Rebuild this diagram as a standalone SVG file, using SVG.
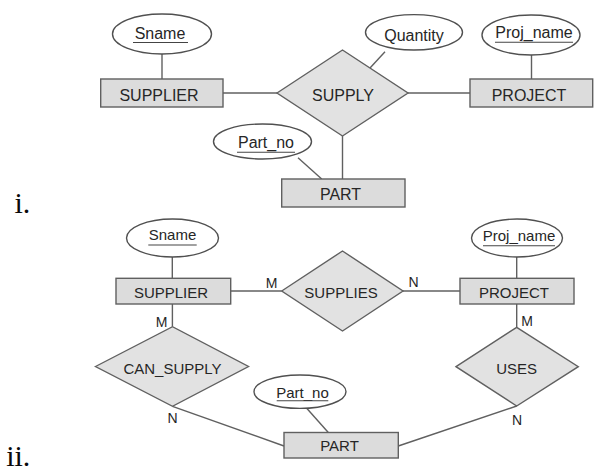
<svg xmlns="http://www.w3.org/2000/svg" width="603" height="475" viewBox="0 0 603 475">
<style>
.bg{fill:#ffffff}
.ent{fill:#dcdcdc;stroke:#606060;stroke-width:1.4}
.rel{fill:#e2e2e2;stroke:#606060;stroke-width:1.4}
.att{fill:#ffffff;stroke:#505050;stroke-width:1.4}
.ln{stroke:#606060;stroke-width:1.4;fill:none}
.ul{stroke:#444444;stroke-width:1.1}
text{font-family:"Liberation Sans",Arial,sans-serif;fill:#262626;text-anchor:middle}
.t16{font-size:16px}
.t15{font-size:15px}
.card{font-size:14px}
.num{font-family:"Liberation Serif","Times New Roman",serif;font-size:30px;fill:#0a0a0a;text-anchor:start}
</style>
<rect class="bg" x="0" y="0" width="603" height="475"/>

<g id="connectors">
  <line class="ln" x1="162" y1="54" x2="162" y2="79"/>
  <line class="ln" x1="223" y1="93" x2="277" y2="93"/>
  <line class="ln" x1="385" y1="51.7" x2="370" y2="68"/>
  <line class="ln" x1="408" y1="93" x2="470" y2="93"/>
  <line class="ln" x1="531.5" y1="55" x2="531.5" y2="79"/>
  <line class="ln" x1="298" y1="157.7" x2="321.7" y2="179"/>
  <line class="ln" x1="342.5" y1="136" x2="342.5" y2="179"/>
  <line class="ln" x1="172.3" y1="257" x2="172.3" y2="278.3"/>
  <line class="ln" x1="230.7" y1="291" x2="281.7" y2="291"/>
  <line class="ln" x1="403" y1="291" x2="460" y2="291"/>
  <line class="ln" x1="516.7" y1="257" x2="516.7" y2="278.3"/>
  <line class="ln" x1="172.4" y1="304" x2="172.4" y2="326.7"/>
  <line class="ln" x1="172.5" y1="406.3" x2="284" y2="446"/>
  <line class="ln" x1="516.7" y1="304" x2="516.7" y2="327.3"/>
  <line class="ln" x1="516.7" y1="406" x2="398.3" y2="446"/>
  <line class="ln" x1="306.7" y1="408.3" x2="328.3" y2="432.5"/>
</g>

<g id="i_sname">
  <ellipse class="att" cx="162" cy="34" rx="49.5" ry="20"/>
  <text class="t16" x="160" y="38.5">Sname</text>
  <line class="ul" x1="133" y1="42.5" x2="188" y2="42.5"/>
</g>
<g id="i_supplier">
  <rect class="ent" x="100.7" y="79" width="122.3" height="28"/>
  <text class="t16" x="159" y="100.5">SUPPLIER</text>
</g>
<g id="i_supply">
  <polygon class="rel" points="277,93 342.5,50 408,93 342.5,136"/>
  <text class="t16" x="343" y="100.5">SUPPLY</text>
</g>
<g id="i_quantity">
  <ellipse class="att" cx="414" cy="32.3" rx="48.5" ry="17.7"/>
  <text class="t16" x="414" y="40.5">Quantity</text>
</g>
<g id="i_project">
  <rect class="ent" x="470" y="79" width="122.7" height="28"/>
  <text class="t16" x="529" y="100.5">PROJECT</text>
</g>
<g id="i_projname">
  <ellipse class="att" cx="531" cy="35" rx="49" ry="20"/>
  <text class="t16" x="534" y="37.5">Proj_name</text>
  <line class="ul" x1="495" y1="42.3" x2="573" y2="42.3"/>
</g>
<g id="i_partno">
  <ellipse class="att" cx="262.5" cy="141.5" rx="49" ry="17.5"/>
  <text class="t16" x="266" y="148.3">Part_no</text>
  <line class="ul" x1="237" y1="152.3" x2="295" y2="152.3"/>
</g>
<g id="i_part">
  <rect class="ent" x="281.7" y="179" width="123.3" height="28"/>
  <text class="t16" x="340.5" y="200">PART</text>
</g>
<text class="num" x="14.5" y="212.5">i.</text>

<g id="ii_sname">
  <ellipse class="att" cx="172.5" cy="238" rx="46" ry="19"/>
  <text class="t15" x="172.5" y="240">Sname</text>
  <line class="ul" x1="148.3" y1="245" x2="196.7" y2="245"/>
</g>
<g id="ii_supplier">
  <rect class="ent" x="116" y="278.3" width="114.7" height="25.7"/>
  <text class="t15" x="171" y="297.5">SUPPLIER</text>
</g>
<g id="ii_supplies">
  <polygon class="rel" points="281.7,291 342.5,251 403,291 342.5,331"/>
  <text class="t15" x="341" y="297.5">SUPPLIES</text>
</g>
<g id="ii_project">
  <rect class="ent" x="460" y="278.3" width="114" height="25.7"/>
  <text class="t15" x="514" y="297.5">PROJECT</text>
</g>
<g id="ii_projname">
  <ellipse class="att" cx="517" cy="238" rx="45.5" ry="19"/>
  <text class="t15" x="519" y="241">Proj_name</text>
  <line class="ul" x1="483" y1="245.7" x2="555" y2="245.7"/>
</g>
<g id="ii_cansupply">
  <polygon class="rel" points="95.5,366.5 172.5,326.7 248.5,366.5 172.5,406.3"/>
  <text class="t15" x="172.5" y="374">CAN_SUPPLY</text>
</g>
<g id="ii_uses">
  <polygon class="rel" points="456,366.7 516.7,327.3 578.3,366.7 516.7,406"/>
  <text class="t15" x="516.7" y="373.5">USES</text>
</g>
<g id="ii_partno">
  <ellipse class="att" cx="300" cy="391.7" rx="46" ry="16.7"/>
  <text class="t15" x="302.5" y="397.5">Part_no</text>
  <line class="ul" x1="276.7" y1="400.7" x2="328.3" y2="400.7"/>
</g>
<g id="ii_part">
  <rect class="ent" x="284" y="432.5" width="114.3" height="25.5"/>
  <text class="t15" x="339.5" y="451">PART</text>
</g>
<g id="cardinalities">
  <text class="card" x="271.7" y="288.3">M</text>
  <text class="card" x="413.5" y="286.7">N</text>
  <text class="card" x="161.7" y="326.7">M</text>
  <text class="card" x="527" y="326">M</text>
  <text class="card" x="172.5" y="422.7">N</text>
  <text class="card" x="517" y="425">N</text>
</g>
<text class="num" x="6.2" y="466">ii.</text>
</svg>
